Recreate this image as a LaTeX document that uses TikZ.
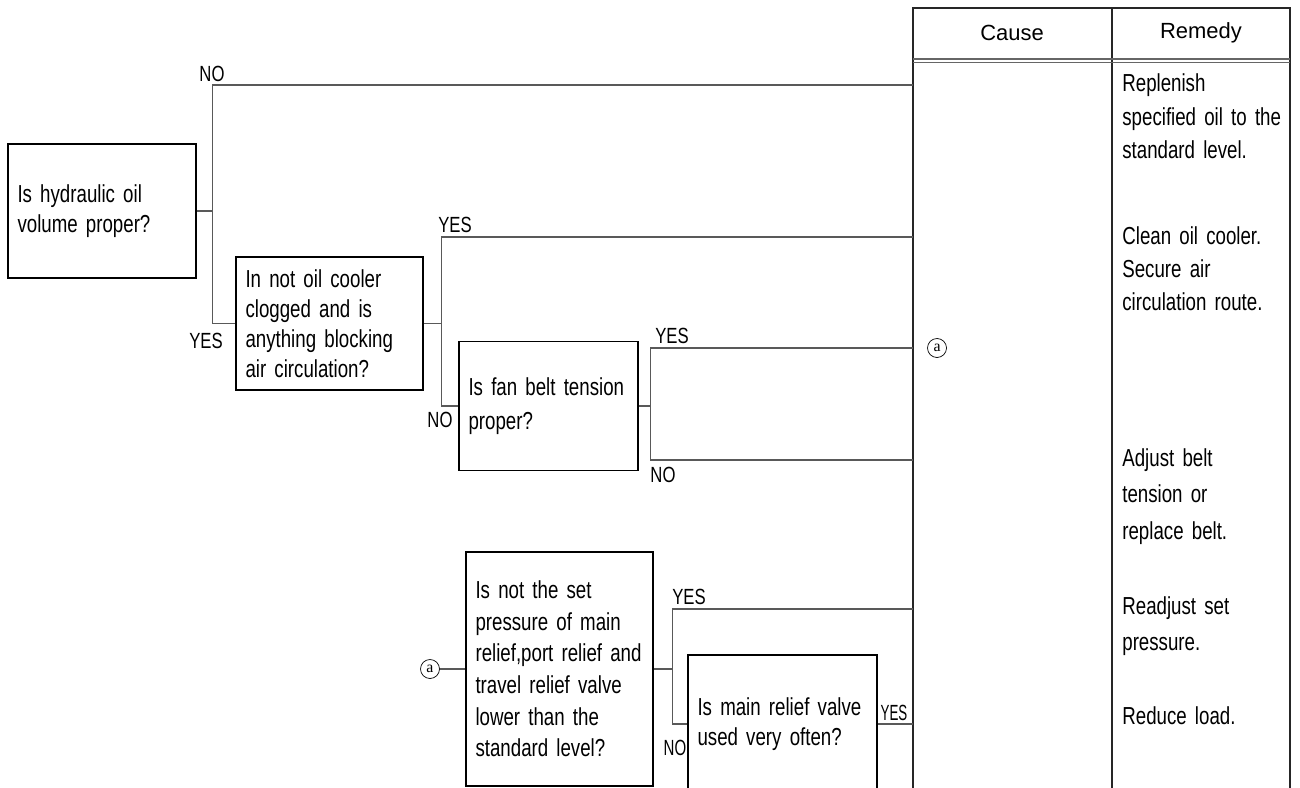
\documentclass[tikz,border=0pt]{standalone}
\usepackage{fontspec}
\setmainfont{Liberation Sans}
\newfontfamily\narrowsans[FakeStretch=0.76]{Liberation Sans}
\newfontfamily\circfont{Liberation Serif}
\newcommand{\qfont}[1]{\narrowsans\fontsize{14}{#1}\selectfont\spaceskip=2.6pt plus 1pt\relax}

\begin{document}
\begin{tikzpicture}[
  x=0.02cm, y=-0.02cm,
  box/.style={draw, line width=0.9pt, align=left, inner xsep=0.19cm, inner ysep=0pt,
              font=\qfont{17}},
  wire/.style={draw=black!65, line width=0.6pt},
  tbl/.style={draw=black!85, line width=0.9pt},
  lbl/.style={font=\narrowsans\fontsize{12.5}{14}\selectfont, inner sep=0pt},
  hdr/.style={font=\fontsize{12.5}{15}\selectfont, inner sep=0pt},
  remedy/.style={anchor=base west, align=left, inner sep=0pt, text width=3.3cm,
                 font=\qfont{19}},
  marka/.style={circle, draw, line width=0.4pt, inner sep=0pt, minimum size=0.38cm,
                font=\circfont\fontsize{9}{10}\selectfont}
]
\clip (0,0) rectangle (1300,787);

% cause / remedy table
\draw[tbl] (913,795) -- (913,8) -- (1290,8) -- (1290,795);
\draw[tbl] (1112,8) -- (1112,795);
\draw[tbl, draw=black!60] (913,59) -- (1290,59);
\draw[tbl, draw=black!60] (913,62.5) -- (1290,62.5);
\node[hdr] (cause) at (1012,33) {Cause};
\node[hdr] (remedy) at (1201,33) {Remedy};

\coordinate (no1) at (913,85);
\coordinate (yes2) at (913,237);
\coordinate (yes3) at (913,348);
\coordinate (no3) at (913,460);
\coordinate (yes4) at (913,609);
\coordinate (yes5) at (913,724);

% questions
\node[box, text width=3.38cm, minimum height=2.68cm] (q1) at (102,211)
  {Is hydraulic oil\\volume proper?};
\node[box, text width=3.36cm, minimum height=2.66cm] (q2) at (329.5,323.5)
  {In not oil cooler\\clogged and is\\anything blocking\\air circulation?};
\node[box, text width=3.20cm, minimum height=2.58cm, font=\qfont{19}] (q3) at (548.5,406)
  {Is fan belt tension\\proper?};
\node[box, text width=3.36cm, minimum height=4.68cm, font=\qfont{18}] (q4) at (559.5,669)
  {Is not the set\\pressure of main\\relief,port relief and\\travel relief valve\\lower than the\\standard level?};
\node[box, text width=3.40cm, minimum height=2.76cm] (q5) at (782.5,724)
  {Is main relief valve\\used very often?};

\node[marka] (a1) at (937,348) {a};
\node[marka] (a2) at (430,669) {a};

% branches
\draw[wire] (q1.east) -- ++(16,0) coordinate (j1) |- (no1);
\draw[wire] (j1) |- (q2.west);
\draw[wire] (q2.east) -- ++(18,0) coordinate (j2) |- (yes2);
\draw[wire] (j2) |- (q3.west);
\draw[wire] (q3.east) -- ++(12,0) coordinate (j3) |- (yes3);
\draw[wire] (j3) |- (no3);
\draw[wire] (a2) -- (q4.west);
\draw[wire] (q4.east) -- ++(19,0) coordinate (j4) |- (yes4);
\draw[wire] (j4) |- (q5.west);
\draw[wire] (q5.east) -- (yes5);

\node[lbl] (l1) at (212,74) {NO};
\node[lbl] (l2) at (206,341) {YES};
\node[lbl] (l3) at (455,225) {YES};
\node[lbl] (l4) at (440,420) {NO};
\node[lbl] (l5) at (672,336) {YES};
\node[lbl] (l6) at (663,475) {NO};
\node[lbl] (l7) at (689,597) {YES};
\node[lbl] (l8) at (675,748) {\scalebox{0.9}[1]{NO}};
\node[lbl] (l9) at (894,713) {\scalebox{0.8}[1]{YES}};

% remedies
\node[remedy] (r1) at (1122,92) {Replenish\\specified oil to the\\standard level.};
\node[remedy] (r2) at (1122,244) {Clean oil cooler.\\Secure air\\circulation route.};
\node[remedy, font=\qfont{21}] (r3) at (1122,466)
  {Adjust belt\\tension or\\replace belt.};
\node[remedy, font=\qfont{21}] (r4) at (1122,614)
  {Readjust set\\pressure.};
\node[remedy] (r5) at (1122,724) {Reduce load.};
\end{tikzpicture}
\end{document}
